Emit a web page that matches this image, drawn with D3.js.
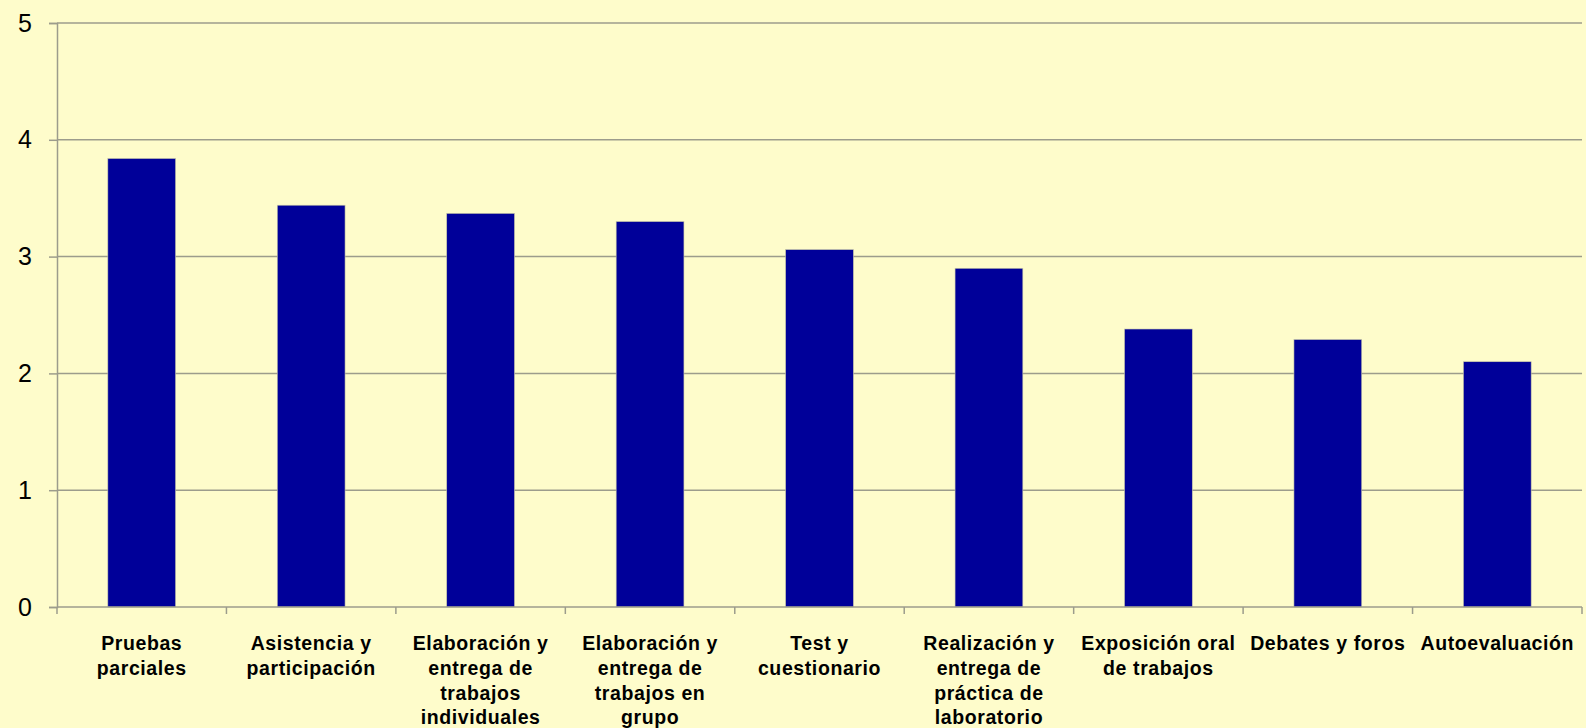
<!DOCTYPE html>
<html lang="es">
<head>
    <meta charset="UTF-8">
    <title>Valoración de métodos de evaluación</title>
    <script src="https://d3js.org/d3.v7.min.js"></script>
    <style>
        body { margin: 0; background: #fefccb; }
        svg { display: block; }
    </style>
</head>
<body>
    <svg width="1586" height="728" id="chart"></svg>
    <script>
        const width = 1586;
        const height = 728;
        const margin = { top: 23, right: 4, bottom: 121, left: 57 };

        // Data
        const categories = [
            "Pruebas parciales",
            "Asistencia y participación",
            "Elaboración y entrega de trabajos individuales",
            "Elaboración y entrega de trabajos en grupo",
            "Test y cuestionario",
            "Realización y entrega de práctica de laboratorio",
            "Exposición oral de trabajos",
            "Debates y foros",
            "Autoevaluación"
        ];
        // wrapped label lines as they appear under the axis
        const labelLines = [
            ["Pruebas", "parciales"],
            ["Asistencia y", "participación"],
            ["Elaboración y", "entrega de", "trabajos", "individuales"],
            ["Elaboración y", "entrega de", "trabajos en", "grupo"],
            ["Test y", "cuestionario"],
            ["Realización y", "entrega de", "práctica de", "laboratorio"],
            ["Exposición oral", "de trabajos"],
            ["Debates y foros"],
            ["Autoevaluación"]
        ];
        const values = [3.84, 3.44, 3.37, 3.30, 3.06, 2.90, 2.38, 2.29, 2.10];
        const yTicks = [0, 1, 2, 3, 4, 5];

        const svg = d3.select("#chart");

        svg.append("rect")
            .attr("width", width)
            .attr("height", height)
            .attr("fill", "#fefccb");

        const x = d3.scaleBand()
            .domain(categories)
            .range([margin.left, width - margin.right])
            .paddingInner(0.6)
            .paddingOuter(0.3);

        // band positions for tick marks (no padding)
        const xTick = d3.scaleBand()
            .domain(categories)
            .range([margin.left, width - margin.right]);

        const y = d3.scaleLinear()
            .domain([0, 5])
            .range([height - margin.bottom, margin.top]);

        // Gridlines
        svg.append("g")
            .selectAll("line")
            .data(yTicks.filter(d => d > 0))
            .join("line")
            .attr("x1", margin.left)
            .attr("x2", width - margin.right)
            .attr("y1", d => y(d))
            .attr("y2", d => y(d))
            .attr("stroke", "#9c9c8c")
            .attr("stroke-width", 1.5);

        // Y axis
        const yAxis = svg.append("g")
            .attr("transform", `translate(${margin.left},0)`)
            .call(d3.axisLeft(y).tickValues(yTicks).tickFormat(d3.format("d")).tickSize(8).tickPadding(17));
        yAxis.select(".domain").attr("stroke", "#9c9c8c").attr("stroke-width", 1.5);
        yAxis.selectAll(".tick line").attr("stroke", "#9c9c8c").attr("stroke-width", 1.5);
        yAxis.selectAll(".tick text")
            .attr("font-family", "Liberation Sans, Arial, sans-serif")
            .attr("font-size", "25px")
            .attr("fill", "#000");

        // Bars
        svg.append("g")
            .selectAll("rect")
            .data(values)
            .join("rect")
            .attr("x", (d, i) => x(categories[i]))
            .attr("y", d => y(d))
            .attr("width", x.bandwidth())
            .attr("height", d => y(0) - y(d))
            .attr("fill", "#000099")
            .attr("stroke", "#c8c8a8")
            .attr("stroke-width", 0.6);

        // X axis line and ticks
        const xBase = y(0);
        svg.append("line")
            .attr("x1", margin.left)
            .attr("x2", width - margin.right)
            .attr("y1", xBase)
            .attr("y2", xBase)
            .attr("stroke", "#9c9c8c")
            .attr("stroke-width", 1.5);

        const tickXs = categories.map(c => xTick(c)).concat([width - margin.right]);
        svg.append("g")
            .selectAll("line")
            .data(tickXs)
            .join("line")
            .attr("x1", d => d)
            .attr("x2", d => d)
            .attr("y1", xBase)
            .attr("y2", xBase + 7)
            .attr("stroke", "#9c9c8c")
            .attr("stroke-width", 1.5);

        // Category labels
        const labels = svg.append("g")
            .selectAll("text")
            .data(labelLines)
            .join("text")
            .attr("x", (d, i) => xTick(categories[i]) + xTick.bandwidth() / 2)
            .attr("y", xBase + 43)
            .attr("text-anchor", "middle")
            .attr("font-family", "Liberation Sans, Arial, sans-serif")
            .attr("font-weight", "bold")
            .attr("font-size", "19.5px")
            .attr("letter-spacing", "0.6px")
            .attr("fill", "#000");

        labels.selectAll("tspan")
            .data(d => d)
            .join("tspan")
            .attr("x", function () { return d3.select(this.parentNode).attr("x"); })
            .attr("dy", (d, i) => i === 0 ? 0 : 24.8)
            .text(d => d);
    </script>
</body>
</html>
